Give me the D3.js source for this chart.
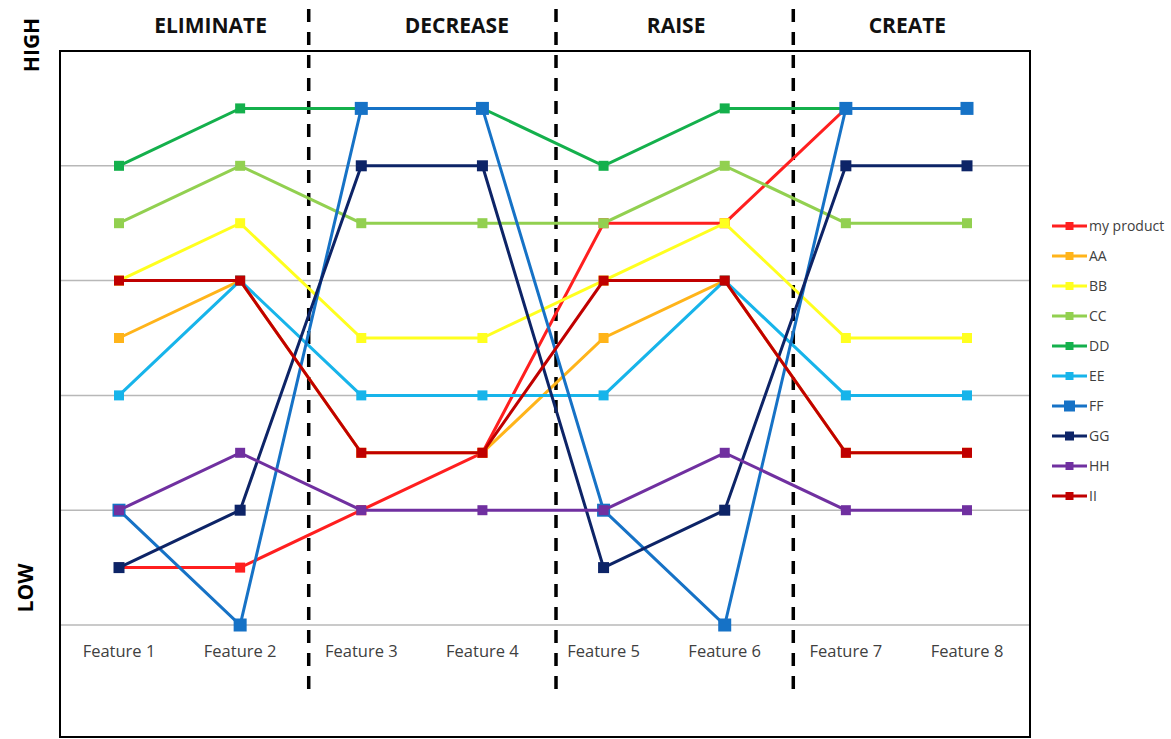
<!DOCTYPE html>
<html>
<head>
<meta charset="utf-8">
<script src="https://cdn.jsdelivr.net/npm/d3@7"></script>
<style>
  body { margin: 0; background: #fff; }
  text { font-family: "Open Sans", "Liberation Sans", sans-serif; }
</style>
</head>
<body>
<div id="chart"></div>
<script>
// categories + stages
var features = ["Feature 1", "Feature 2", "Feature 3", "Feature 4", "Feature 5", "Feature 6", "Feature 7", "Feature 8"];
var stages = ["ELIMINATE", "DECREASE", "RAISE", "CREATE"];

// series values (0 = low, 5 = high)
var myProduct = [0.5, 0.5, 1, 1.5, 3.5, 3.5, 4.5, 4.5];
var AA = [2.5, 3, 1.5, 1.5, 2.5, 3, 1.5, 1.5];
var BB = [3, 3.5, 2.5, 2.5, 3, 3.5, 2.5, 2.5];
var CC = [3.5, 4, 3.5, 3.5, 3.5, 4, 3.5, 3.5];
var DD = [4, 4.5, 4.5, 4.5, 4, 4.5, 4.5, 4.5];
var EE = [2, 3, 2, 2, 2, 3, 2, 2];
var FF = [1, 0, 4.5, 4.5, 1, 0, 4.5, 4.5];
var GG = [0.5, 1, 4, 4, 0.5, 1, 4, 4];
var HH = [1, 1.5, 1, 1, 1, 1.5, 1, 1];
var II = [3, 3, 1.5, 1.5, 3, 3, 1.5, 1.5];

var gridValues = [0, 1, 2, 3, 4];

var series = [
  {name: "my product", color: "#ff1f1f", values: myProduct, size: 10},
  {name: "AA", color: "#ffb41a", values: AA, size: 10},
  {name: "BB", color: "#ffff1f", values: BB, size: 10},
  {name: "CC", color: "#92d050", values: CC, size: 10},
  {name: "DD", color: "#14b04c", values: DD, size: 10},
  {name: "EE", color: "#17b4ea", values: EE, size: 10},
  {name: "FF", color: "#1672c6", values: FF, size: 13},
  {name: "GG", color: "#0d2467", values: GG, size: 11},
  {name: "HH", color: "#7030a0", values: HH, size: 10},
  {name: "II", color: "#c00000", values: II, size: 10}
];

var width = 1171, height = 739;

var svg = d3.select("#chart").append("svg")
    .attr("width", width)
    .attr("height", height);

var x = d3.scalePoint().domain(features).range([119, 967]);
var y = d3.scaleLinear().domain([0, 5]).range([625, 51]);
var step = x.step();

// plot box
svg.append("rect")
    .attr("x", 60).attr("y", 51)
    .attr("width", 970).attr("height", 686)
    .attr("fill", "none")
    .attr("stroke", "#000")
    .attr("stroke-width", 2);

// gridlines
svg.selectAll(".grid")
    .data(gridValues)
    .enter().append("line")
    .attr("class", "grid")
    .attr("x1", 61).attr("x2", 1029)
    .attr("y1", function(d) { return y(d); })
    .attr("y2", function(d) { return y(d); })
    .attr("stroke", "#b8b8b8")
    .attr("stroke-width", 1.5);

// x labels
svg.selectAll(".xlab")
    .data(features)
    .enter().append("text")
    .attr("class", "xlab")
    .attr("x", function(d) { return x(d); })
    .attr("y", 657)
    .attr("text-anchor", "middle")
    .attr("fill", "#404040")
    .style("font-size", "16.5px")
    .text(function(d) { return d; });

// stage dividers, hand-placed a bit right of the feature midpoints
var dividerNudge = [8, 13, 8];
svg.selectAll(".divider")
    .data([1, 3, 5])
    .enter().append("line")
    .attr("class", "divider")
    .attr("x1", function(d, i) { return x(features[d]) + step / 2 + dividerNudge[i]; })
    .attr("x2", function(d, i) { return x(features[d]) + step / 2 + dividerNudge[i]; })
    .attr("y1", 9).attr("y2", 697)
    .attr("stroke", "#000")
    .attr("stroke-width", 3.5)
    .attr("stroke-dasharray", "13,10");

// stage headers
var headerNudge = [31, 35, 12, 1];
svg.selectAll(".stage")
    .data(stages)
    .enter().append("text")
    .attr("class", "stage")
    .attr("x", function(d, i) { return (x(features[i * 2]) + x(features[i * 2 + 1])) / 2 + headerNudge[i]; })
    .attr("y", 33)
    .attr("text-anchor", "middle")
    .attr("fill", "#111")
    .style("font-size", "21px")
    .style("font-weight", "bold")
    .text(function(d) { return d; });

// HIGH / LOW
svg.append("text")
    .attr("transform", "translate(39,45) rotate(-90)")
    .attr("text-anchor", "middle")
    .style("font-size", "21px")
    .style("font-weight", "bold")
    .text("HIGH");
svg.append("text")
    .attr("transform", "translate(33,588) rotate(-90)")
    .attr("text-anchor", "middle")
    .style("font-size", "21px")
    .style("font-weight", "bold")
    .text("LOW");

var line = d3.line()
    .x(function(d, i) { return x(features[i]); })
    .y(function(d) { return y(d); });

var sg = svg.selectAll(".series")
    .data(series)
    .enter().append("g")
    .attr("class", "series");

sg.each(function(s) {
  var g = d3.select(this);
  g.append("path")
      .attr("d", line(s.values))
      .attr("fill", "none")
      .attr("stroke", s.color)
      .attr("stroke-width", 3);
  g.selectAll("rect")
      .data(s.values)
      .enter().append("rect")
      .attr("x", function(d, i) { return x(features[i]) - s.size / 2; })
      .attr("y", function(d) { return y(d) - s.size / 2; })
      .attr("width", s.size)
      .attr("height", s.size)
      .attr("fill", s.color);
});

// legend
var legend = svg.selectAll(".legend")
    .data(series)
    .enter().append("g")
    .attr("class", "legend")
    .attr("transform", function(d, i) { return "translate(1052," + (226 + i * 30) + ")"; });

legend.append("line")
    .attr("x1", 0).attr("x2", 35)
    .attr("stroke", function(d) { return d.color; })
    .attr("stroke-width", 3);
legend.append("rect")
    .attr("x", function(d) { return 17.5 - d.size / 2 + 1; })
    .attr("y", function(d) { return -(d.size - 2) / 2; })
    .attr("width", function(d) { return d.size - 2; })
    .attr("height", function(d) { return d.size - 2; })
    .attr("fill", function(d) { return d.color; });
legend.append("text")
    .attr("x", 37).attr("y", 5)
    .attr("fill", "#404040")
    .style("font-size", "14px")
    .text(function(d) { return d.name; });
</script>
</body>
</html>
